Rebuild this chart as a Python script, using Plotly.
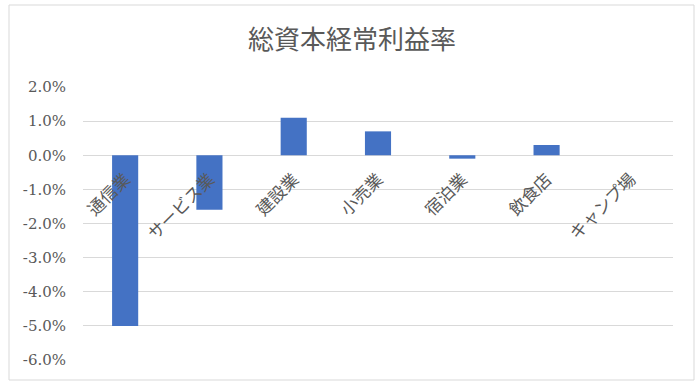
import plotly.graph_objects as go

categories = ["通信業", "サービス業", "建設業", "小売業", "宿泊業", "飲食店", "キャンプ場"]
values = [-0.050, -0.016, 0.011, 0.007, -0.001, 0.003, 0.0]
y_ticks = [-0.06, -0.05, -0.04, -0.03, -0.02, -0.01, 0.0, 0.01, 0.02]
y_tick_labels = ["-6.0%", "-5.0%", "-4.0%", "-3.0%", "-2.0%", "-1.0%", "0.0%", "1.0%", "2.0%"]
title_text = "総資本経常利益率"

W, H = 697, 385
L, R, T, B = 83, 24, 87, 25
y_min, y_max = -0.06, 0.02

fig = go.Figure(go.Bar(
    x=categories, y=values, width=0.31,
    marker=dict(color="#4472C4", line=dict(width=0)),
))

pw = W - L - R
ph = H - T - B
def px_x(p):
    return (p - L) / pw
def px_y(p):
    return (H - B - p) / ph

fig.update_layout(
    width=W, height=H,
    margin=dict(l=L, r=R, t=T, b=B),
    paper_bgcolor="white", plot_bgcolor="white",
    showlegend=False,
    font=dict(family="DejaVu Serif"),
    title=dict(text=title_text, x=(352 / W), xref="container", xanchor="center",
               y=1 - 40 / H, yanchor="middle", yref="container",
               font=dict(family="Noto Sans CJK JP", size=26, color="#595959")),
    xaxis=dict(
        type="category", anchor="free",
        position=(0 - y_min) / (y_max - y_min),
        tickangle=-45, showline=False, ticks="", showgrid=False,
        automargin=False, ticklabelstandoff=10,
        tickfont=dict(family="Noto Sans CJK JP", size=17, color="#595959"),
        range=[-0.5, len(categories) - 0.5],
    ),
    yaxis=dict(
        range=[y_min, y_max], tickvals=y_ticks, ticktext=y_tick_labels,
        showgrid=True, gridcolor="#D9D9D9", gridwidth=1,
        zeroline=True, zerolinecolor="#D9D9D9", zerolinewidth=1,
        showline=False, ticks="", automargin=False,
        ticklabelstandoff=16,
        tickfont=dict(family="DejaVu Serif", size=15, color="#595959"),
    ),
    shapes=[dict(type="rect", xref="paper", yref="paper",
                 x0=px_x(9), x1=px_x(694), y0=px_y(380), y1=px_y(5),
                 line=dict(color="#D9D9D9", width=1), layer="below")],
)

fig.write_html("out.html")
